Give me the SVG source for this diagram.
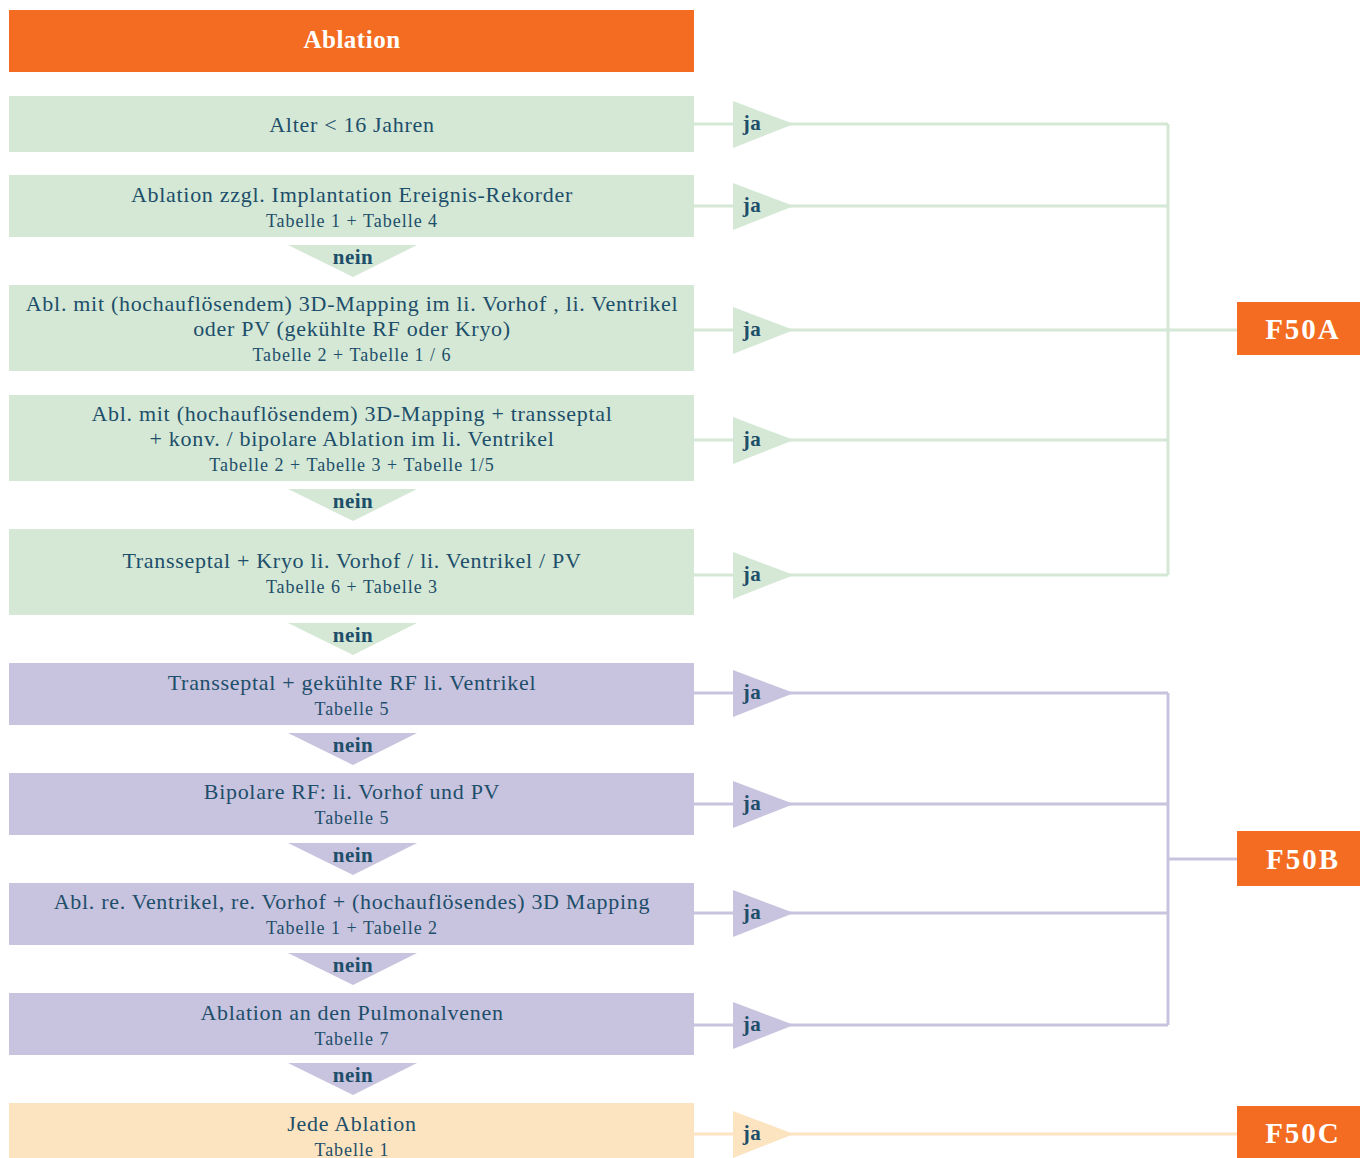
<svg xmlns="http://www.w3.org/2000/svg" width="1360" height="1158" viewBox="0 0 1360 1158">
<style>
.t{font-family:"Liberation Serif","DejaVu Serif",serif;fill:#1d4e6a;text-anchor:middle}
.m{font-size:22px;letter-spacing:0.7px}
.s{font-size:18px;letter-spacing:1px}
.b{font-weight:bold;font-size:21px;letter-spacing:0.5px}
.w{font-family:"Liberation Serif","DejaVu Serif",serif;fill:#fff;font-weight:bold;text-anchor:middle}
.g{fill:#d4e8d5}.p{fill:#c8c3de}.o{fill:#fde4c0}.r{fill:#f36c21}
.lg{stroke:#d4e8d5;stroke-width:3;fill:none}
.lp{stroke:#c8c3de;stroke-width:3;fill:none}
.lo{stroke:#fde4c0;stroke-width:3;fill:none}
</style>
<g id="connectors">
<path class="lg" d="M694 124H1168M694 206H1168M694 330H1237M694 440H1168M694 575H1168M1168 124V575"/>
<path class="lp" d="M694 693H1168M694 804H1168M694 913H1168M694 1025H1168M1168 693V1025M1168 859H1237"/>
<path class="lo" d="M694 1134H1237"/>
<g class="g">
<polygon points="733,101 733,148 794,124"/>
<polygon points="733,183 733,230 794,206"/>
<polygon points="733,307 733,354 794,330"/>
<polygon points="733,417 733,464 794,440"/>
<polygon points="733,552 733,599 794,575"/>
<polygon points="288,245 417,245 353,277"/>
<polygon points="288,489 417,489 353,521"/>
<polygon points="288,623 417,623 353,655"/>
</g>
<g class="p">
<polygon points="733,670 733,717 794,693"/>
<polygon points="733,781 733,828 794,804"/>
<polygon points="733,890 733,937 794,913"/>
<polygon points="733,1002 733,1049 794,1025"/>
<polygon points="288,733 417,733 353,765"/>
<polygon points="288,843 417,843 353,875"/>
<polygon points="288,953 417,953 353,985"/>
<polygon points="288,1063 417,1063 353,1095"/>
</g>
<g class="o"><polygon points="733,1111 733,1158 794,1134"/></g>
<g class="t b">
<text x="752" y="130">ja</text>
<text x="752" y="212">ja</text>
<text x="752" y="336">ja</text>
<text x="752" y="446">ja</text>
<text x="752" y="581">ja</text>
<text x="752" y="699">ja</text>
<text x="752" y="810">ja</text>
<text x="752" y="919">ja</text>
<text x="752" y="1031">ja</text>
<text x="752" y="1140">ja</text>
<text x="353" y="264">nein</text>
<text x="353" y="508">nein</text>
<text x="353" y="642">nein</text>
<text x="353" y="752">nein</text>
<text x="353" y="862">nein</text>
<text x="353" y="972">nein</text>
<text x="353" y="1082">nein</text>
</g>
</g>
<g id="header"><rect class="r" x="9" y="10" width="685" height="62"/><text class="w" x="352" y="48" font-size="25" letter-spacing="0.5">Ablation</text></g>
<g id="n1"><rect class="g" x="9" y="96" width="685" height="56"/><text class="t m" x="352" y="132">Alter &lt; 16 Jahren</text></g>
<g id="n2"><rect class="g" x="9" y="175" width="685" height="62"/><text class="t m" x="352" y="202">Ablation zzgl. Implantation Ereignis-Rekorder</text><text class="t s" x="352" y="227">Tabelle 1 + Tabelle 4</text></g>
<g id="n3"><rect class="g" x="9" y="285" width="685" height="86"/><text class="t m" x="352" y="311">Abl. mit (hochauflösendem) 3D-Mapping im li. Vorhof , li. Ventrikel</text><text class="t m" x="352" y="336">oder PV (gekühlte RF oder Kryo)</text><text class="t s" x="352" y="361">Tabelle 2 + Tabelle 1 / 6</text></g>
<g id="n4"><rect class="g" x="9" y="395" width="685" height="86"/><text class="t m" x="352" y="421">Abl. mit (hochauflösendem) 3D-Mapping + transseptal</text><text class="t m" x="352" y="446">+ konv. / bipolare Ablation im li. Ventrikel</text><text class="t s" x="352" y="471">Tabelle 2 + Tabelle 3 + Tabelle 1/5</text></g>
<g id="n5"><rect class="g" x="9" y="529" width="685" height="86"/><text class="t m" x="352" y="568">Transseptal + Kryo li. Vorhof / li. Ventrikel / PV</text><text class="t s" x="352" y="593">Tabelle 6 + Tabelle 3</text></g>
<g id="n6"><rect class="p" x="9" y="663" width="685" height="62"/><text class="t m" x="352" y="690">Transseptal + gekühlte RF li. Ventrikel</text><text class="t s" x="352" y="715">Tabelle 5</text></g>
<g id="n7"><rect class="p" x="9" y="773" width="685" height="62"/><text class="t m" x="352" y="799">Bipolare RF: li. Vorhof und PV</text><text class="t s" x="352" y="824">Tabelle 5</text></g>
<g id="n8"><rect class="p" x="9" y="883" width="685" height="62"/><text class="t m" x="352" y="909">Abl. re. Ventrikel, re. Vorhof + (hochauflösendes) 3D Mapping</text><text class="t s" x="352" y="934">Tabelle 1 + Tabelle 2</text></g>
<g id="n9"><rect class="p" x="9" y="993" width="685" height="62"/><text class="t m" x="352" y="1020">Ablation an den Pulmonalvenen</text><text class="t s" x="352" y="1045">Tabelle 7</text></g>
<g id="n10"><rect class="o" x="9" y="1103" width="685" height="55"/><text class="t m" x="352" y="1131">Jede Ablation</text><text class="t s" x="352" y="1156">Tabelle 1</text></g>
<g id="F50A"><rect class="r" x="1237" y="302" width="123" height="53"/><text class="w" x="1303" y="339" font-size="29" letter-spacing="2">F50A</text></g>
<g id="F50B"><rect class="r" x="1237" y="831" width="123" height="55"/><text class="w" x="1303" y="869" font-size="29" letter-spacing="2">F50B</text></g>
<g id="F50C"><rect class="r" x="1237" y="1106" width="123" height="52"/><text class="w" x="1303" y="1143" font-size="29" letter-spacing="2">F50C</text></g>
</svg>
